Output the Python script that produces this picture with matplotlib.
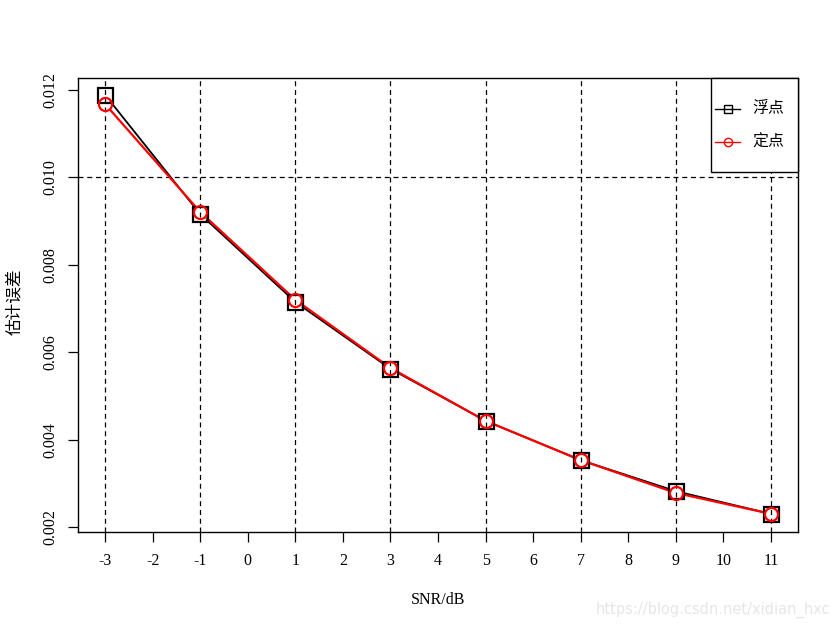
import matplotlib
matplotlib.use("Agg")
import matplotlib.pyplot as plt
import numpy as np
from matplotlib.patches import Rectangle

snr = [-3, -1, 1, 3, 5, 7, 9, 11]
float_err = [0.01189, 0.00916, 0.00715, 0.00562, 0.00443, 0.00353, 0.00282, 0.00230]
fixed_err = [0.01168, 0.00921, 0.00720, 0.00564, 0.00443, 0.00353, 0.00278, 0.00230]
xticks = list(range(-3, 12))
yticks = [0.002, 0.004, 0.006, 0.008, 0.010, 0.012]
ytick_labels = ["0.002", "0.004", "0.006", "0.008", "0.010", "0.012"]
xlabel = "SNR/dB"
ylabel = "估计误差"
legend_labels = ["浮点", "定点"]

serif = ["Liberation Serif", "DejaVu Serif"]
cjk = ["Noto Sans CJK SC", "DejaVu Sans"]

W, H = 840, 630
L, R, T, B = 78, 798, 78, 532
fig = plt.figure(figsize=(8.4, 6.3), dpi=100)
ax = fig.add_axes([L/W, 1-B/H, (R-L)/W, (B-T)/H])
ax.set_xlim(-3.568, 11.568)
ax.set_ylim(0.001886, 0.012275)

def axpt(px, py):
    return ((px-L)/(R-L), (B-py)/(B-T))

# grid
for x in snr:
    ax.axvline(x, color="black", lw=0.9, ls=(0, (4, 3)), zorder=1)
ax.axhline(0.010, color="black", lw=0.9, ls=(0, (4, 3)), zorder=1)

fig.canvas.draw()

def gapped(xs, ys, gap_px, color, lw):
    pts = ax.transData.transform(np.column_stack([xs, ys]))
    inv = ax.transData.inverted()
    for i in range(len(pts)-1):
        p0, p1 = pts[i], pts[i+1]
        d = p1 - p0
        Ln = np.hypot(*d)
        if Ln <= 2*gap_px:
            continue
        u = d / Ln
        a = inv.transform(p0 + u*gap_px)
        b = inv.transform(p1 - u*gap_px)
        ax.plot([a[0], b[0]], [a[1], b[1]], color=color, lw=lw, solid_capstyle="butt", zorder=2)

gapped(snr, float_err, 8, "black", 1.3)
gapped(snr, fixed_err, 7, "red", 1.6)
ax.plot(snr, float_err, ls="none", marker="s", ms=10.8, mfc="none", mec="black", mew=1.6, zorder=3)
ax.plot(snr, fixed_err, ls="none", marker="o", ms=9.4, mfc="none", mec="red", mew=1.6, zorder=4)

ax.set_xticks(xticks)
ax.set_xticklabels([str(t) for t in xticks], fontfamily=serif, fontsize=11.5)
ax.set_yticks(yticks)
ax.set_yticklabels(ytick_labels, fontfamily=serif, fontsize=11.5, rotation=90, va="center")
ax.tick_params(axis="both", direction="out", length=7, width=0.9, color="black")
ax.tick_params(axis="x", pad=8)
ax.tick_params(axis="y", pad=7)
for s in ax.spines.values():
    s.set_linewidth(1.0)

fig.text(438/W, 1-600/H, xlabel, ha="center", va="center", fontfamily=serif, fontsize=11.5)
fig.text(15/W, 1-302/H, ylabel, ha="center", va="center", rotation=90, fontfamily=cjk, fontsize=12)

# legend (manual, R-style)
x0, y0 = axpt(711, 172)
x1, y1 = axpt(798, 78)
ax.add_patch(Rectangle((x0, y0), x1-x0, y1-y0, transform=ax.transAxes, fill=True,
                       facecolor="white", edgecolor="black", lw=1.0, zorder=5, clip_on=False))
entries = [(109, "black", "s", legend_labels[0]), (142, "red", "o", legend_labels[1])]
for py, c, m, lab in entries:
    a = axpt(715, py)
    b = axpt(740, py)
    mid = axpt(727.5, py)
    ax.plot([a[0], b[0]], [a[1], b[1]], color=c, lw=1.0, transform=ax.transAxes, zorder=6, clip_on=False)
    ax.plot([mid[0]], [mid[1]], marker=m, ms=6, mfc="none", mec=c, mew=1.0, transform=ax.transAxes,
            zorder=7, clip_on=False, ls="none")
    t = axpt(752, py)
    ax.text(t[0], t[1], lab, transform=ax.transAxes, ha="left", va="center",
            fontfamily=cjk, fontsize=11.5, zorder=7)

fig.text(830/W, 1-610/H, "https://blog.csdn.net/xidian_hxc", ha="right", va="center",
         fontsize=10.5, color="#e6e6e6", fontfamily=["DejaVu Sans"])

fig.savefig("out.png", dpi=100)
